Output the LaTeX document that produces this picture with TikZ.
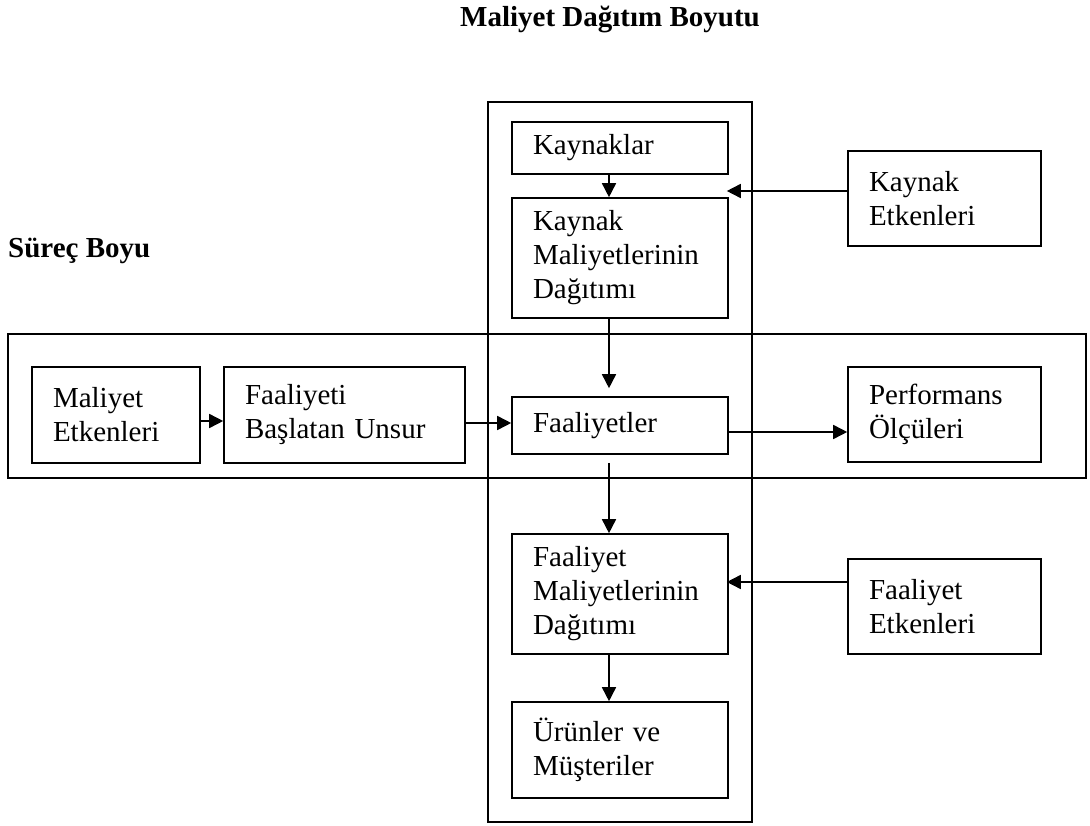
\documentclass[tikz,border=0pt]{standalone}
\usepackage{fontspec}
\setmainfont{Liberation Serif}
\usetikzlibrary{arrows.meta}

\tikzset{
  txt/.style={font=\fontsize{29pt}{34pt}\selectfont},
  box/.style={txt, draw, line width=1.6pt, inner sep=0pt, align=left},
  frame/.style={draw, line width=1.6pt},
  arr/.style={line width=1.6pt, -{Triangle[length=14pt,width=14pt]}},
  heading/.style={font=\fontsize{29pt}{34pt}\selectfont\bfseries, inner sep=0pt}
}

% \mybox{name}{left}{top}{right}{bottom}{text}
\newcommand{\mybox}[6]{%
  \pgfmathsetmacro{\bw}{#4-#2}%
  \pgfmathsetmacro{\bh}{#5-#3}%
  \pgfmathsetmacro{\tw}{#4-#2-42}%
  \node[box, minimum width=\bw pt, minimum height=\bh pt, text width=\tw pt]
    (#1) at ({(#2+#4)/2},{(#3+#5)/2}) {#6};%
}

\begin{document}
\begin{tikzpicture}[x=1pt,y=-1pt]
  \useasboundingbox (0,0) rectangle (1090,826);

  % headings
  \node[heading, anchor=base] (title) at (610,27) {Maliyet Dağıtım Boyutu};
  \node[heading, anchor=base west] (surec) at (8,258) {Süreç Boyu};

  % the two crossing frames
  \draw[frame] (488,102) rectangle (752,822);
  \draw[frame] (8,334) rectangle (1086,478);

  % boxes
  \mybox{kay}{512}{122}{728}{174}{Kaynaklar}
  \mybox{kmd}{512}{198}{728}{318}{Kaynak\\Maliyetlerinin\\Dağıtımı}
  \mybox{ke}{848}{151}{1041}{246}{Kaynak\\Etkenleri}
  \mybox{me}{32}{367}{200}{463}{Maliyet\\Etkenleri}
  \mybox{fbu}{224}{367}{465}{463}{Faaliyeti\\Başlatan Unsur}
  \mybox{fa}{512}{397}{728}{454}{Faaliyetler}
  \mybox{pe}{848}{367}{1041}{462}{Performans\\Ölçüleri}
  \mybox{fmd}{512}{534}{728}{654}{Faaliyet\\Maliyetlerinin\\Dağıtımı}
  \mybox{fe}{848}{559}{1041}{654}{Faaliyet\\Etkenleri}
  \mybox{ur}{512}{702}{728}{798}{Ürünler ve\\Müşteriler}

  % reference lines for the connectors
  \coordinate (spine) at (609,0);
  \coordinate (yke) at (0,191);
  \coordinate (yme) at (0,421);
  \coordinate (yfbu) at (0,423);
  \coordinate (yfa) at (0,432);
  \coordinate (yfe) at (0,582);

  % vertical flow
  \draw[arr] (kay.south -| spine) -- (kmd.north -| spine);
  \draw[arr, shorten >=8pt] (kmd.south -| spine) -- (fa.north -| spine);
  \draw[arr, shorten <=8pt] (fa.south -| spine) -- (fmd.north -| spine);
  \draw[arr] (fmd.south -| spine) -- (ur.north -| spine);

  % horizontal flow
  \draw[arr] (me.east |- yme) -- (fbu.west |- yme);
  \draw[arr] (fbu.east |- yfbu) -- (fa.west |- yfbu);
  \draw[arr] (fa.east |- yfa) -- (pe.west |- yfa);

  % drivers
  \draw[arr, shorten >=-2pt] (ke.west |- yke) -- (kmd.east |- yke);
  \draw[arr, shorten >=-2pt] (fe.west |- yfe) -- (fmd.east |- yfe);
\end{tikzpicture}
\end{document}
